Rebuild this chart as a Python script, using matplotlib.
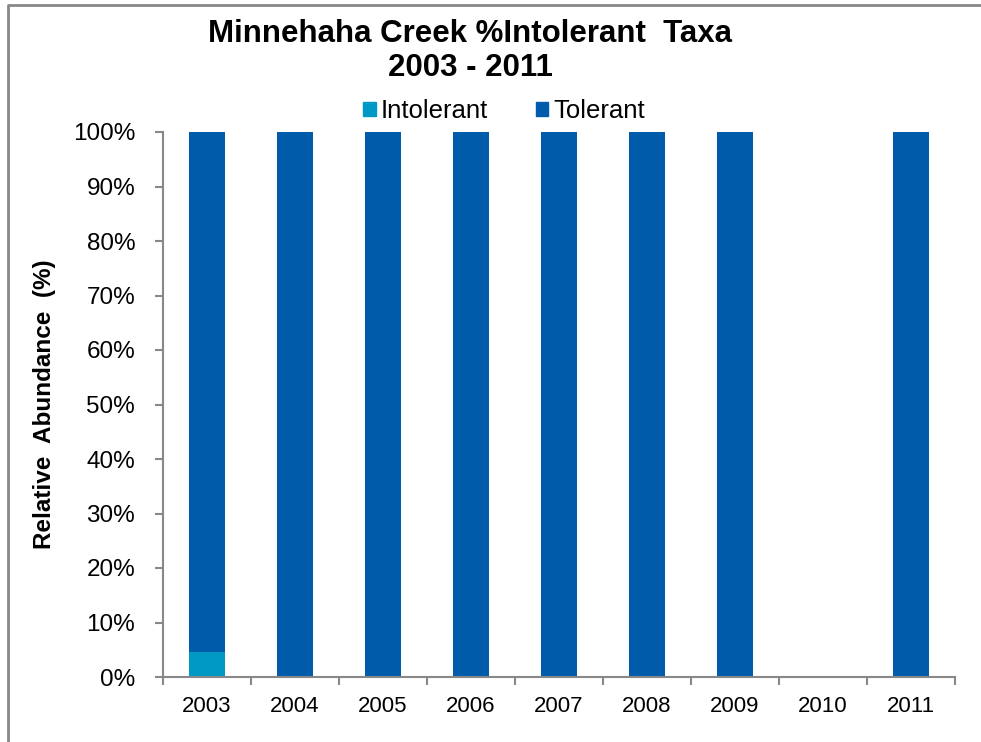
import matplotlib
matplotlib.use("Agg")
import matplotlib.pyplot as plt
from matplotlib.lines import Line2D
from matplotlib.patches import Patch
import numpy as np

plt.rcParams['font.family'] = ['Liberation Sans', 'DejaVu Sans']

years = ['2003', '2004', '2005', '2006', '2007', '2008', '2009', '2010', '2011']
intolerant = [4.5, 0, 0, 0, 0, 0, 0, 0, 0]
tolerant = [95.5, 100, 100, 100, 100, 100, 100, 0, 100]
y_ticks = [0, 10, 20, 30, 40, 50, 60, 70, 80, 90, 100]

c_intol = '#0099C6'
c_tol = '#005BAA'
grey = '#888888'

fig = plt.figure(figsize=(9.81, 7.42), dpi=100)
ax = fig.add_axes([163 / 981, 65 / 742, 792 / 981, 545 / 742])

x = np.arange(len(years))
w = 0.41
ax.bar(x, intolerant, width=w, color=c_intol, label='Intolerant')
ax.bar(x, tolerant, width=w, bottom=intolerant, color=c_tol, label='Tolerant')

ax.set_xlim(-0.5, len(years) - 0.5)
ax.set_ylim(0, 100)
ax.set_yticks(y_ticks)
ax.set_yticklabels([f'{v}%' for v in y_ticks], fontsize=17.5)
ax.set_xticks(x)
ax.set_xticklabels(years, fontsize=16)
ax.set_xticks(np.arange(len(years) + 1) - 0.5, minor=True)
ax.tick_params(axis='x', which='major', length=0, pad=14)
ax.tick_params(axis='x', which='minor', length=6, width=1.5, color=grey, direction='out')
ax.tick_params(axis='y', length=6, width=1.5, color=grey, direction='out', pad=14)

for s in ('top', 'right'):
    ax.spines[s].set_visible(False)
for s in ('left', 'bottom'):
    ax.spines[s].set_color(grey)
    ax.spines[s].set_linewidth(1.5)

ax.set_ylabel('Relative  Abundance  (%)', fontsize=17.5, fontweight='bold', labelpad=12)

fig.text(470 / 981, 1 - 51 / 742, 'Minnehaha Creek %Intolerant  Taxa\n2003 - 2011',
         ha='center', va='center', fontsize=22.5, fontweight='bold', linespacing=1.2)

handles = [Patch(color=c_intol), Patch(color=c_tol)]
fig.legend(handles, ['Intolerant', 'Tolerant'], loc='center',
           bbox_to_anchor=(504 / 981, 1 - 111 / 742), ncol=2, frameon=False,
           fontsize=18.5, handlelength=0.5, handleheight=0.5, handletextpad=0.2,
           columnspacing=1.85)

# outer chart border (left and top edges visible)
fig.add_artist(Line2D([8 / 981, 8 / 981, 1.05], [-0.05, 1 - 5 / 742, 1 - 5 / 742],
                      transform=fig.transFigure, color=grey, lw=2))

fig.savefig('out.png', dpi=100)
